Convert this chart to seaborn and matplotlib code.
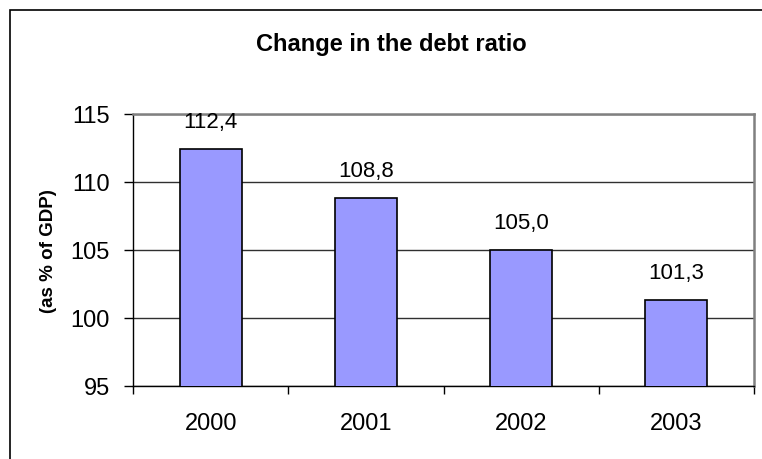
import matplotlib
matplotlib.use("Agg")
import matplotlib.pyplot as plt
import seaborn as sns
import pandas as pd
from matplotlib.patches import Rectangle
from matplotlib.ticker import FixedLocator

years = ["2000", "2001", "2002", "2003"]
debt_ratio = [112.4, 108.8, 105.0, 101.3]
y_ticks = [95, 100, 105, 110, 115]
title = "Change in the debt ratio"
y_label = "(as % of GDP)"

sns.set_style("white")
plt.rcParams["font.family"] = ["Liberation Sans", "DejaVu Sans"]
plt.rcParams["text.color"] = "black"
plt.rcParams["axes.labelcolor"] = "black"
plt.rcParams["xtick.color"] = "black"
plt.rcParams["ytick.color"] = "black"

df = pd.DataFrame({"year": years, "ratio": debt_ratio})

W, H = 762, 460
fig = plt.figure(figsize=(W / 100, H / 100), dpi=100)
ax = fig.add_axes([133 / W, 1 - 387 / H, (754 - 133) / W, (387 - 115) / H])

sns.barplot(data=df, x="year", y="ratio", ax=ax, color="#9999FF",
            edgecolor="black", linewidth=1.2, width=0.4, saturation=1,
            errorbar=None, zorder=3)

ax.set_ylim(95, 115)
ax.set_xlim(-0.5, 3.5)
ax.yaxis.set_major_locator(FixedLocator(y_ticks))
ax.grid(axis="y", color="#303030", linewidth=1.0, zorder=0)
ax.set_axisbelow(True)

for s in ["left", "bottom"]:
    ax.spines[s].set_color("black")
    ax.spines[s].set_linewidth(1.0)
for s in ["top", "right"]:
    ax.spines[s].set_color("#808080")
    ax.spines[s].set_linewidth(1.8)
    ax.spines[s].set_visible(True)

ax.tick_params(axis="y", direction="out", length=6.5, width=1, color="black",
               labelsize=17, pad=10, left=True, labelcolor="black")
ax.tick_params(axis="x", which="major", length=0, labelsize=17, pad=19,
               labelcolor="black")
ax.set_xticks([-0.5, 0.5, 1.5, 2.5, 3.5], minor=True)
ax.tick_params(axis="x", which="minor", direction="out", length=6, width=1,
               color="black", bottom=True)

ax.set_xlabel("")
ax.set_ylabel(y_label, fontsize=13.5, fontweight="bold", color="black")
ax.yaxis.set_label_coords((57 - 133) / 621, 0.5)

for i, v in enumerate(debt_ratio):
    ax.annotate(f"{v:.1f}".replace(".", ","), (i, v), xytext=(0, 20),
                textcoords="offset points", ha="center", va="center",
                fontsize=16, color="black")

fig.text(391.5 / W, 1 - 44.5 / H, title, ha="center", va="center",
         fontsize=17, fontweight="bold", color="black")

fig.add_artist(Rectangle((10 / W, -0.1), 1.2, 1 - 11 / H + 0.1,
                         transform=fig.transFigure, fill=False,
                         edgecolor="black", linewidth=1.2))

fig.savefig("out.png", dpi=100, facecolor="white")
